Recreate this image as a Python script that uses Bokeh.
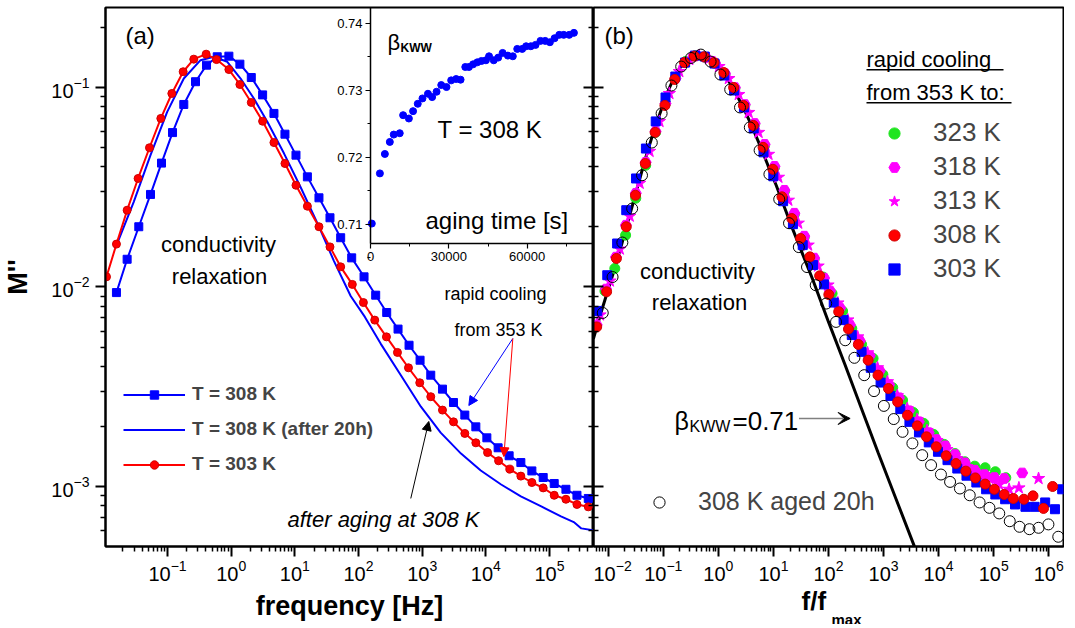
import numpy as np
from bokeh.plotting import figure
from bokeh.layouts import row
from bokeh.models import (Range1d, LogAxis, LinearAxis, LinearScale, FixedTicker, Label, Legend, LegendItem,
                          Arrow, Title, NormalHead, VeeHead, BoxAnnotation, CustomJSTickFormatter)
from bokeh.embed import file_html
from bokeh.resources import INLINE

FONT = "Liberation Sans"

# ---------------- data (log10 values) ----------------
# panel (a): T = 308 K (squares)
a308_lf = [-1.802, -1.634, -1.451, -1.267, -1.094, -0.921, -0.744, -0.560, -0.387, -0.219, -0.036, 0.137,
           0.316, 0.494, 0.672, 0.845, 1.018, 1.197, 1.379, 1.552, 1.720, 1.893, 2.087, 2.270, 2.443, 2.621,
           2.794, 2.967, 3.135, 3.319, 3.492, 3.670, 3.843, 4.016, 4.193, 4.366, 4.550, 4.723, 4.901, 5.074,
           5.258, 5.431, 5.609]
a308_lM = [-2.028, -1.861, -1.698, -1.536, -1.379, -1.226, -1.085, -0.971, -0.888, -0.846, -0.843, -0.883,
           -0.950, -1.037, -1.130, -1.234, -1.339, -1.448, -1.553, -1.653, -1.753, -1.854, -1.949, -2.041,
           -2.128, -2.211, -2.292, -2.367, -2.442, -2.512, -2.579, -2.642, -2.701, -2.756, -2.806, -2.846,
           -2.880, -2.922, -2.955, -2.985, -3.014, -3.044, -3.060]
# panel (a): T = 308 K after 20 h (line)
a308h_lf = [-1.80, -1.53, -1.267, -1.005, -0.744, -0.481, -0.272, -0.061, 0.148, 0.357, 0.568, 0.829, 1.091,
            1.354, 1.615, 1.877, 2.10, 2.35, 2.66, 2.98, 3.29, 3.61, 3.92, 4.24, 4.55, 4.87, 5.18, 5.39, 5.50,
            5.70]
a308h_lM = [-1.79, -1.573, -1.339, -1.122, -0.955, -0.863, -0.846, -0.871, -0.955, -1.055, -1.172, -1.330,
            -1.500, -1.680, -1.870, -2.045, -2.150, -2.285, -2.440, -2.600, -2.730, -2.835, -2.920, -2.990,
            -3.050, -3.100, -3.150, -3.180, -3.210, -3.220]
# panel (a): T = 303 K (circles)
a303_lf = [-1.958, -1.802, -1.634, -1.462, -1.283, -1.105, -0.932, -0.754, -0.587, -0.393, -0.230, -0.036,
           0.137, 0.316, 0.494, 0.672, 0.845, 1.018, 1.197, 1.379, 1.552, 1.720, 1.903, 2.077, 2.255, 2.439,
           2.612, 2.785, 2.962, 3.135, 3.319, 3.492, 3.670, 3.843, 4.027, 4.200, 4.377, 4.550, 4.723, 4.901,
           5.074, 5.258, 5.431, 5.609]
a303_lM = [-1.949, -1.785, -1.615, -1.456, -1.302, -1.155, -1.030, -0.921, -0.858, -0.833, -0.860, -0.910,
           -0.985, -1.075, -1.169, -1.276, -1.381, -1.490, -1.595, -1.698, -1.799, -1.899, -1.987, -2.078,
           -2.166, -2.250, -2.328, -2.405, -2.480, -2.550, -2.617, -2.676, -2.734, -2.781, -2.830, -2.871,
           -2.913, -2.948, -2.980, -3.007, -3.044, -3.064, -3.090, -3.102]

# inset: beta_KWW vs aging time
inset_t = [500, 3600, 5500, 7400, 8900, 11200, 12500, 14700, 16300, 18100, 19900, 22000, 23600, 25300,
           27100, 29100, 30900, 32800, 34500, 36300, 37700, 39300, 40900, 42500, 44200, 45400, 47200, 48900,
           50600, 52600, 54500, 56200, 58100, 59600, 61400, 63200, 65100, 66900, 68700, 70500, 72300, 74000,
           76100, 77900]
inset_beta = [0.7101, 0.7176, 0.7205, 0.7223, 0.7234, 0.7236, 0.7263, 0.7258, 0.7269, 0.7280, 0.7288,
              0.7295, 0.7290, 0.7298, 0.7308, 0.7305, 0.7315, 0.7317, 0.7316, 0.7335, 0.7335, 0.7339,
              0.7342, 0.7344, 0.7345, 0.7351, 0.7345, 0.7349, 0.7356, 0.7352, 0.7351, 0.7362, 0.7362,
              0.7366, 0.7366, 0.7368, 0.7374, 0.7374, 0.7372, 0.7378, 0.7383, 0.7383, 0.7383, 0.7386]

# panel (b): KWW fit line (beta = 0.71)
kww_lf = [-2.27, -2.1, -1.92, -1.77, -1.63, -1.48, -1.33, -1.18, -1.03, -0.91, -0.79, -0.67, -0.55, -0.46,
          -0.375, -0.26, -0.14, 0.0, 0.16, 0.31, 0.46, 0.61, 0.755, 0.9, 1.05, 1.2, 1.35, 1.53, 1.71, 2.0,
          2.3, 2.6, 2.9, 3.23, 3.56, 3.8]
kww_lM = [-2.26, -2.10, -1.94, -1.80, -1.66, -1.51, -1.36, -1.225, -1.105, -1.015, -0.94, -0.89, -0.865,
          -0.85, -0.845, -0.85, -0.865, -0.90, -0.955, -1.025, -1.105, -1.195, -1.29, -1.39, -1.49, -1.60,
          -1.71, -1.835, -1.96, -2.175, -2.39, -2.61, -2.83, -3.065, -3.30, -3.47]
# panel (b): 323 K
b323_lf = [-2.06, -1.881, -1.685, -1.50, -1.32, -1.14, -0.96, -0.78, -0.60, -0.42, -0.24, -0.06, 0.12, 0.30,
           0.48, 0.66, 0.84, 1.02, 1.20, 1.38, 1.56, 1.74, 1.90, 2.065, 2.256, 2.423, 2.601, 2.810, 2.988,
           3.167, 3.345, 3.542, 3.732, 3.911, 4.101, 4.298, 4.476, 4.655, 4.845, 5.030, 5.220]
b323_lM = [-2.02, -1.907, -1.740, -1.555, -1.39, -1.225, -1.08, -0.95, -0.87, -0.84, -0.85, -0.88, -0.935,
           -1.005, -1.09, -1.185, -1.29, -1.40, -1.52, -1.635, -1.75, -1.86, -1.95, -2.033, -2.121, -2.208,
           -2.288, -2.358, -2.439, -2.505, -2.567, -2.629, -2.684, -2.739, -2.789, -2.835, -2.876, -2.898,
           -2.906, -2.926, -2.956]
# panel (b): 318 K
b318_lf = [-2.21, -2.04, -1.86, -1.68, -1.50, -1.32, -1.14, -0.96, -0.78, -0.60, -0.42, -0.24, -0.06, 0.12,
           0.30, 0.48, 0.66, 0.84, 1.02, 1.20, 1.38, 1.56, 1.74, 1.92, 2.03, 2.21, 2.39, 2.57, 2.75, 2.93,
           3.10, 3.28, 3.46, 3.64, 3.82, 3.96, 4.119, 4.298, 4.476, 4.655, 4.833, 5.012, 5.191, 5.518]
b318_lM = [-2.19, -2.01, -1.85, -1.69, -1.53, -1.375, -1.22, -1.08, -0.955, -0.875, -0.842, -0.848, -0.878,
           -0.93, -1.00, -1.085, -1.18, -1.285, -1.395, -1.515, -1.63, -1.745, -1.855, -1.955, -2.02, -2.105,
           -2.19, -2.27, -2.345, -2.42, -2.49, -2.555, -2.62, -2.675, -2.73, -2.765, -2.796, -2.840, -2.881,
           -2.918, -2.940, -2.955, -2.960, -2.932]
# panel (b): 313 K
b313_lf = [-2.15, -1.97, -1.79, -1.61, -1.43, -1.25, -1.07, -0.89, -0.71, -0.53, -0.35, -0.17, 0.01, 0.19,
           0.37, 0.55, 0.73, 0.91, 1.09, 1.27, 1.45, 1.63, 1.81, 1.99, 2.17, 2.35, 2.53, 2.71, 2.89, 3.07,
           3.25, 3.43, 3.61, 3.79, 3.97, 4.15, 4.33, 4.51, 4.744, 4.92, 5.10, 5.280, 5.458, 5.815]
b313_lM = [-2.14, -1.97, -1.81, -1.645, -1.48, -1.32, -1.17, -1.03, -0.92, -0.86, -0.84, -0.855, -0.895,
           -0.955, -1.035, -1.125, -1.225, -1.335, -1.45, -1.565, -1.68, -1.79, -1.895, -1.99, -2.08, -2.165,
           -2.25, -2.33, -2.405, -2.475, -2.545, -2.61, -2.665, -2.72, -2.77, -2.815, -2.86, -2.90, -2.943,
           -2.96, -2.99, -3.014, -3.007, -2.960]
# panel (b): 308 K
b308_lf = [-2.21, -2.03, -1.852, -1.673, -1.506, -1.327, -1.149, -0.971, -0.793, -0.614, -0.436, -0.258,
           -0.080, 0.099, 0.277, 0.455, 0.634, 0.812, 0.990, 1.155, 1.334, 1.494, 1.661, 1.839, 2.006, 2.185,
           2.363, 2.542, 2.720, 2.899, 3.089, 3.256, 3.435, 3.613, 3.780, 3.958, 4.137, 4.315, 4.494, 4.667,
           4.845, 5.012, 5.191, 5.357, 5.548, 5.714, 5.905, 6.071]
b308_lM = [-2.20, -2.024, -1.857, -1.698, -1.540, -1.381, -1.225, -1.09, -0.96, -0.875, -0.843, -0.846,
           -0.875, -0.925, -1.00, -1.09, -1.19, -1.30, -1.41, -1.548, -1.657, -1.757, -1.849, -1.944, -2.038,
           -2.124, -2.211, -2.288, -2.367, -2.442, -2.509, -2.576, -2.643, -2.696, -2.751, -2.801, -2.846,
           -2.885, -2.923, -2.957, -2.988, -3.014, -3.040, -3.060, -3.064, -3.047, -3.110, -3.000]
# panel (b): 303 K
b303_lf = [-2.20, -2.018, -1.839, -1.673, -1.495, -1.316, -1.138, -0.960, -0.782, -0.604, -0.426, -0.248,
           -0.070, 0.108, 0.286, 0.464, 0.642, 0.820, 0.998, 1.176, 1.354, 1.532, 1.72, 1.917, 2.095, 2.274,
           2.423, 2.601, 2.768, 2.946, 3.125, 3.304, 3.470, 3.643, 3.821, 3.988, 4.161, 4.339, 4.506, 4.685,
           4.863, 5.030, 5.208, 5.387, 5.577, 5.744, 5.935, 6.113, 6.244]
b303_lM = [-2.12, -1.941, -1.782, -1.615, -1.456, -1.306, -1.17, -1.05, -0.945, -0.875, -0.84, -0.845, -0.88,
           -0.94, -1.015, -1.10, -1.205, -1.325, -1.445, -1.57, -1.685, -1.79, -1.89, -1.987, -2.078, -2.166,
           -2.241, -2.325, -2.405, -2.479, -2.546, -2.612, -2.676, -2.729, -2.779, -2.826, -2.868, -2.910,
           -2.946, -2.980, -3.014, -3.040, -3.064, -3.090, -3.102, -3.102, -3.080, -3.114, -3.014]
# panel (b): 308 K aged 20 h (open circles)
baged_lf = [-2.10, -1.922, -1.744, -1.566, -1.387, -1.209, -1.031, -0.853, -0.675, -0.497, -0.319, -0.141,
            0.037, 0.215, 0.393, 0.571, 0.749, 0.927, 1.105, 1.283, 1.461, 1.61, 1.768, 1.958, 2.137, 2.304,
            2.470, 2.649, 2.827, 3.006, 3.185, 3.345, 3.524, 3.702, 3.863, 4.042, 4.208, 4.387, 4.565, 4.744,
            4.923, 5.101, 5.292, 5.470, 5.649, 5.815, 5.994, 6.173]
baged_lM = [-2.13, -1.95, -1.777, -1.607, -1.440, -1.276, -1.13, -0.99, -0.895, -0.852, -0.835, -0.87,
            -0.935, -1.01, -1.10, -1.20, -1.315, -1.435, -1.56, -1.68, -1.80, -1.90, -1.991, -2.083, -2.175,
            -2.267, -2.355, -2.442, -2.522, -2.596, -2.662, -2.726, -2.784, -2.843, -2.893, -2.940, -2.977,
            -3.010, -3.044, -3.080, -3.107, -3.135, -3.174, -3.202, -3.214, -3.207, -3.190, -3.252]

a_xdecades = [-1, 0, 1, 2, 3, 4, 5]
b_xdecades = [-2, -1, 0, 1, 2, 3, 4, 5, 6]
ydecades = [-3, -2, -1]
inset_xticks = [0, 30000, 60000]
inset_xminor = [15000, 45000, 75000]
inset_yticks = [0.71, 0.72, 0.73, 0.74]
inset_yminor = [0.705, 0.715, 0.725, 0.735]
INSET_X = (0, 85400)          # inset axis extent (aging time)
INSET_Y = (0.70712, 0.74239)  # inset axis extent (beta)


def P(v):
    return np.power(10.0, np.asarray(v, dtype=float))


def log_ticker(decades):
    lo, hi = min(decades) - 1, max(decades) + 1
    major = [10.0 ** d for d in decades]
    minor = [m * 10.0 ** d for d in range(lo, hi + 1) for m in range(2, 10)]
    return FixedTicker(ticks=major, minor_ticks=minor)


def style_axis(ax, out=True, labels=True, size="20px"):
    ax.axis_line_width = 2
    ax.axis_line_color = "black"
    ax.major_tick_line_width = 2
    ax.minor_tick_line_width = 1.5
    ax.major_tick_line_color = "black"
    ax.minor_tick_line_color = "black"
    if out:
        ax.major_tick_out, ax.major_tick_in = 10, 0
        ax.minor_tick_out, ax.minor_tick_in = 5, 0
    else:
        ax.major_tick_out, ax.major_tick_in = 0, 10
        ax.minor_tick_out, ax.minor_tick_in = 0, 5
    ax.major_label_text_font = FONT
    ax.major_label_text_font_size = size
    ax.major_label_text_color = "black"
    if not labels:
        ax.formatter = CustomJSTickFormatter(code="return ''")
        ax.major_label_standoff = 0


Y_RANGE = (10 ** -3.3008, 10 ** -0.599)
TOP = 7
FH = 539
BOT = 78

# ---------------- panel (a) ----------------
pa = figure(x_axis_type="log", y_axis_type="log",
            x_range=Range1d(10 ** -1.9738, 10 ** 5.691), y_range=Range1d(*Y_RANGE),
            frame_width=488, frame_height=FH, min_border_left=97, min_border_right=0,
            min_border_top=TOP, min_border_bottom=BOT, output_backend="svg", toolbar_location=None)
pa.xgrid.visible = False
pa.ygrid.visible = False
pa.outline_line_color = "black"
pa.outline_line_width = 2
pa.outline_line_alpha = 1
pa.xaxis.ticker = log_ticker(a_xdecades)
pa.yaxis.ticker = log_ticker(ydecades)
style_axis(pa.xaxis[0])
style_axis(pa.yaxis[0])
pa.xaxis.major_label_standoff = 3
pa.yaxis.major_label_standoff = 6
pa.xaxis.axis_label = "frequency [Hz]"
pa.yaxis.axis_label = "M''"
for ax in (pa.xaxis[0], pa.yaxis[0]):
    ax.axis_label_text_font = FONT
    ax.axis_label_text_font_size = "27px"
    ax.axis_label_text_font_style = "bold"
    ax.axis_label_text_color = "black"
pa.xaxis.axis_label_standoff = 7
pa.yaxis.axis_label_standoff = 15
ra = LogAxis(ticker=log_ticker(ydecades))
style_axis(ra, out=False, labels=False)
ra.axis_line_color = None
pa.add_layout(ra, "right")

BLUE = "#0000ff"
RED = "#ff0000"
l308 = pa.line(P(a308_lf), P(a308_lM), line_color=BLUE, line_width=2)
s308 = pa.scatter(P(a308_lf), P(a308_lM), marker="square", size=8, fill_color=BLUE, line_color=BLUE)
l308h = pa.line(P(a308h_lf), P(a308h_lM), line_color=BLUE, line_width=2)
l303 = pa.line(P(a303_lf), P(a303_lM), line_color=RED, line_width=2)
s303 = pa.scatter(P(a303_lf), P(a303_lM), marker="circle", size=8, fill_color=RED, line_color="#d00000")

leg_a = Legend(items=[LegendItem(label="T = 308 K", renderers=[l308, s308]),
                      LegendItem(label="T = 308 K (after 20h)", renderers=[l308h]),
                      LegendItem(label="T = 303 K", renderers=[l303, s303])],
               location=(18, 71), orientation="vertical", glyph_width=62, glyph_height=21,
               label_height=21, label_standoff=7, spacing=13, padding=0, margin=0,
               border_line_color=None, background_fill_alpha=0,
               label_text_font=FONT, label_text_font_size="19px", label_text_font_style="bold")
pa.add_layout(leg_a)

BASE_FIX = 6  # raise text so its baseline sits where it is wanted


def lab(p, x, y, text, size, align="left", style="normal", color="black"):
    p.add_layout(Label(x=x, y=y + BASE_FIX, x_units="screen", y_units="screen", text=text, text_font=FONT,
                       text_font_size=size, text_font_style=style, text_align=align,
                       text_baseline="alphabetic", text_color=color))


lab(pa, 20, 505, "(a)", "24px")
lab(pa, 113, 296, "conductivity", "22px", "center")
lab(pa, 114, 264, "relaxation", "22px", "center")
lab(pa, 390, 247, "rapid cooling", "18px", "center")
lab(pa, 393, 211, "from 353 K", "18px", "center")
lab(pa, 182, 21, "after aging at 308 K", "22px", style="italic")

pa.add_layout(Arrow(x_start=10 ** 4.424, y_start=10 ** -2.258, x_end=10 ** 3.733, y_end=10 ** -2.594,
                    line_color=BLUE, line_width=1,
                    end=NormalHead(size=9, fill_color=BLUE, line_color=BLUE)))
pa.add_layout(Arrow(x_start=10 ** 4.424, y_start=10 ** -2.258, x_end=10 ** 4.283, y_end=10 ** -2.850,
                    line_color=RED, line_width=1,
                    end=NormalHead(size=9, fill_color=RED, line_color=RED)))
pa.add_layout(Arrow(x_start=10 ** 2.821, y_start=10 ** -3.060, x_end=10 ** 3.104, y_end=10 ** -2.674,
                    line_color="black", line_width=1,
                    end=NormalHead(size=9, fill_color="black", line_color="black")))

# ---------------- inset, drawn inside panel (a) on its own linear scales ----------------
# panel (a) frame is 488 x 539 px; the inset box occupies its top-right 223 x 236 px.
ix_per_px = (INSET_X[1] - INSET_X[0]) / 223.0
iy_per_px = (INSET_Y[1] - INSET_Y[0]) / 236.0
pa.extra_x_ranges = {"ix": Range1d(INSET_X[0] - (488 - 223) * ix_per_px, INSET_X[1])}
pa.extra_y_ranges = {"iy": Range1d(INSET_Y[0] - (FH - 236) * iy_per_px, INSET_Y[1])}
pa.extra_x_scales = {"ix": LinearScale()}
pa.extra_y_scales = {"iy": LinearScale()}

iya = LinearAxis(x_range_name="ix", y_range_name="iy", fixed_location=INSET_X[0], bounds=INSET_Y,
                 ticker=FixedTicker(ticks=inset_yticks, minor_ticks=inset_yminor))
ixa = LinearAxis(x_range_name="ix", y_range_name="iy", fixed_location=INSET_Y[0], bounds=INSET_X,
                 ticker=FixedTicker(ticks=inset_xticks, minor_ticks=inset_xminor))
for ax in (iya, ixa):
    style_axis(ax, size="13px")
    ax.axis_line_width = 1.5
    ax.major_tick_line_width = 1.2
    ax.minor_tick_line_width = 1
    ax.major_tick_out = 5
    ax.minor_tick_out = 3
    ax.major_label_standoff = 3
pa.add_layout(iya, "left")
pa.add_layout(ixa, "below")
pa.scatter(inset_t, inset_beta, marker="circle", size=7, fill_color=BLUE, line_color=BLUE,
           x_range_name="ix", y_range_name="iy")
# inset texts (frame of panel (a): inset starts 265 px from left, 303 px from bottom)
lab(pa, 282, 498, "\u03b2", "22px")
lab(pa, 295, 493, "KWW", "12px", style="bold")
lab(pa, 332, 411, "T = 308 K", "24px")
lab(pa, 320, 320, "aging time [s]", "24px")

# ---------------- panel (b) ----------------
pb = figure(x_axis_type="log", y_axis_type="log",
            x_range=Range1d(10 ** -2.268, 10 ** 6.268), y_range=Range1d(*Y_RANGE),
            frame_width=470, frame_height=FH, min_border_left=0, min_border_right=1,
            min_border_top=TOP, min_border_bottom=BOT, output_backend="svg", toolbar_location=None)
pb.xgrid.visible = False
pb.ygrid.visible = False
pb.outline_line_color = "black"
pb.outline_line_width = 2
pb.xaxis.ticker = log_ticker(b_xdecades)
pb.yaxis.ticker = log_ticker(ydecades)
style_axis(pb.xaxis[0])
style_axis(pb.yaxis[0], out=False, labels=False)
pb.xaxis.major_label_standoff = 3
pb.add_layout(Title(text="f/f", align="left", offset=208, standoff=1, text_font=FONT,
                    text_font_size="26px", text_font_style="bold", text_color="black"), "below")
pb.add_layout(Title(text="max", align="left", offset=238, standoff=-23, text_font=FONT,
                    text_font_size="15px", text_font_style="bold", text_color="black"), "below")

GREEN = "#1fe51f"
MAG = "#ff00ff"
pb.line(P(kww_lf), P(kww_lM), line_color="black", line_width=3)
g323 = pb.scatter(P(b323_lf), P(b323_lM), marker="circle", size=10, fill_color=GREEN, line_color=GREEN)
g318 = pb.scatter(P(b318_lf), P(b318_lM), marker="hex", size=11, fill_color=MAG, line_color=MAG)
g313 = pb.scatter(P(b313_lf), P(b313_lM), marker="star", size=13, fill_color=MAG, line_color=MAG)
g303 = pb.scatter(P(b303_lf), P(b303_lM), marker="square", size=9, fill_color=BLUE, line_color=BLUE)
g308 = pb.scatter(P(b308_lf), P(b308_lM), marker="circle", size=10, fill_color=RED, line_color="#d00000")
gaged = pb.scatter(P(baged_lf), P(baged_lM), marker="circle", size=11, fill_color=None,
                   line_color="black", line_width=1)

leg_b = Legend(items=[LegendItem(label="323 K", renderers=[g323]),
                      LegendItem(label="318 K", renderers=[g318]),
                      LegendItem(label="313 K", renderers=[g313]),
                      LegendItem(label="308 K", renderers=[g308]),
                      LegendItem(label="303 K", renderers=[g303])],
               location=(287, 262), orientation="vertical", glyph_width=28, glyph_height=28,
               label_height=28, label_standoff=25, spacing=3, padding=0, margin=0,
               border_line_color=None, background_fill_alpha=0,
               label_text_font=FONT, label_text_font_size="26px")
pb.add_layout(leg_b)
leg_c = Legend(items=[LegendItem(label="308 K aged 20h", renderers=[gaged])],
               location=(52, 30), orientation="vertical", glyph_width=28, glyph_height=28,
               label_height=28, label_standoff=25, spacing=0, padding=0, margin=0,
               border_line_color=None, background_fill_alpha=0,
               label_text_font=FONT, label_text_font_size="25px")
pb.add_layout(leg_c)

lab(pb, 11, 505, "(b)", "24px")
lab(pb, 104, 269, "conductivity", "22px", "center")
lab(pb, 106, 238, "relaxation", "22px", "center")
lab(pb, 273, 481, "rapid cooling ", "22px")
lab(pb, 273, 448, "from 353 K to:", "22px")
for (l, r, y) in [(273, 410, 476), (273, 418, 443)]:
    pb.add_layout(BoxAnnotation(left=l, right=r, bottom=y, top=y + 1.4, left_units="screen",
                                right_units="screen", bottom_units="screen", top_units="screen",
                                fill_color="black", fill_alpha=1, line_alpha=0))
lab(pb, 81, 120, "\u03b2", "25px")
lab(pb, 96, 114, "KWW", "16px")
lab(pb, 139, 120, "=0.71", "26px")
pb.add_layout(Arrow(x_start=10 ** 1.464, y_start=10 ** -2.659, x_end=10 ** 2.393, y_end=10 ** -2.659,
                    line_color="#808080", line_width=1.5,
                    end=VeeHead(size=12, fill_color="black", line_color="black")))

layout = row(pa, pb, spacing=0)

open("out.html", "w").write(file_html(layout, INLINE))
